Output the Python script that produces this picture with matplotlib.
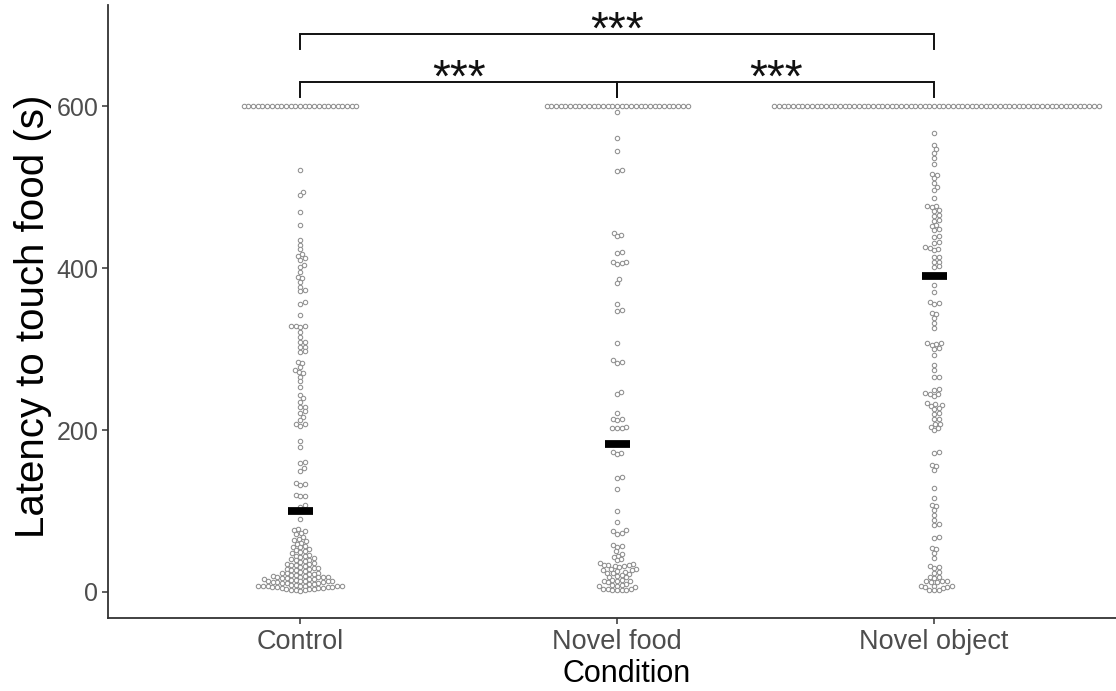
"""
Latency to touch food by condition: beeswarm with median bars and
significance brackets.  Writes out.png.
"""
import numpy as np
import matplotlib
matplotlib.use("Agg")
import matplotlib.pyplot as plt

plt.rcParams["font.family"] = ["Liberation Sans", "DejaVu Sans"]

INK = "#111111"
AXIS = "#333333"
TICK_TXT = "#4d4d4d"
DOT_EDGE = "#8f8f8f"

conditions = ["Control", "Novel food", "Novel object"]

# trials that hit the 600 s ceiling
n_ceiling = [25, 31, 70]

control = [
    521, 494, 490, 469, 453, 435, 429, 423, 417, 415, 412, 410, 404, 401,
    395, 389, 388, 383, 377, 373, 371, 358, 356, 342, 329, 329, 328, 327,
    321, 315, 309, 309, 303, 302, 297, 296, 284, 283, 278, 274, 272, 270,
    266, 260, 253, 243, 239, 235, 229, 228, 223, 221, 216, 212, 208, 207,
    205, 186, 179, 161, 159, 153, 150, 134, 133, 132, 120, 119, 118, 107,
    105, 90,
    78, 76, 75, 73, 71, 68, 66, 64, 63, 61, 59, 57, 56, 55, 53, 52, 51,
    49, 48, 46, 45, 44, 43, 42, 41, 40, 39, 38, 37, 36, 35,
    34, 33, 33, 32, 31, 30, 30, 29, 28, 27, 27, 26, 25, 24, 24, 23, 22, 22,
    21, 21, 20, 20,
    19, 19, 18, 18, 18, 17, 17, 16, 16, 16, 15, 15, 14, 14, 14, 13, 13, 12,
    12, 12, 11, 11, 11, 10, 10,
    9, 9, 8, 8, 8, 7, 7, 7, 7, 6, 6, 6, 6, 5, 5, 5, 4, 4, 4, 3, 3, 2, 1,
]

novel_food = [
    593, 561, 544, 521, 520, 443, 441, 439, 420, 419, 408, 407, 406, 405,
    387, 382, 356, 348, 347, 308, 286, 284, 283, 247, 245, 221, 214, 213,
    212, 204, 203, 203, 202, 173, 172, 170, 142, 141, 127, 100, 86, 76, 75,
    73, 72, 58, 57, 56, 50, 47, 45, 43, 41, 39, 36, 34, 33, 33, 33, 32, 32,
    31, 28, 28, 27, 27, 26, 25, 24, 23, 22, 21, 20, 19, 18, 15, 15, 14, 14,
    13, 12, 10, 9, 9, 8, 7, 6, 4, 4, 4, 3, 3, 3, 2,
]

novel_object = [
    567, 552, 547, 542, 536, 529, 516, 515, 511, 505, 500, 496, 486, 477,
    476, 475, 471, 470, 465, 464, 459, 458, 453, 452, 448, 447, 439, 438,
    432, 431, 426, 425, 424, 422, 414, 413, 408, 407, 402, 401, 379, 370,
    358, 357, 356, 344, 343, 338, 332, 326, 308, 307, 306, 305, 301, 300,
    293, 280, 274, 266, 265, 251, 250, 246, 245, 244, 242, 233, 232, 231,
    230, 227, 226, 221, 220, 214, 213, 208, 207, 204, 203, 200, 173, 172,
    157, 156, 151, 128, 116, 107, 106, 101, 95, 89, 84, 83, 68, 67, 54, 53,
    48, 42, 32, 31, 30, 25, 24, 19, 18, 17, 14, 13, 13, 12, 12, 8, 7, 7, 6,
    6, 5, 3, 2, 2,
]

medians = [100, 183, 390]

# pairwise comparisons: (group a, group b, label)
comparisons = [(0, 1, "***"), (1, 2, "***"), (0, 2, "***")]
bracket_tops = [630, 630, 689]


def swarm_offsets(ax, xc, vals, d):
    """Pixel-space swarm: each point goes as close to the centre line as it
    can without overlapping points already placed (lowest values first)."""
    pts = ax.transData.transform(np.column_stack([np.full(len(vals), xc), vals]))
    ys = pts[:, 1]
    order = np.argsort(ys, kind="stable")
    px, py = [], []
    offs = np.zeros(len(vals))
    for i in order:
        y = ys[i]
        near = [(a, b) for a, b in zip(px, py) if abs(b - y) < d]
        cands = [0.0]
        for a, b in near:
            dx = np.sqrt(d * d - (b - y) ** 2)
            cands += [a + dx, a - dx]
        cands.sort(key=lambda c: (round(abs(c), 6), -c))
        for c in cands:
            if all((a - c) ** 2 + (b - y) ** 2 >= d * d - 1e-6 for a, b in near):
                break
        offs[i] = c
        px.append(c)
        py.append(y)
    return offs


fig = plt.figure(figsize=(11.16, 6.91), dpi=100)
ax = fig.add_axes([108 / 1116, 73 / 691, 1008 / 1116, 613 / 691])
ax.set_xlim(0.394, 3.574)
ax.set_ylim(-32.1, 724.7)

for s in ("top", "right"):
    ax.spines[s].set_visible(False)
for s in ("left", "bottom"):
    ax.spines[s].set_color(AXIS)
    ax.spines[s].set_linewidth(1.3)

ax.set_yticks([0, 200, 400, 600])
ax.set_xticks([1, 2, 3])
ax.set_xticklabels(conditions)
ax.tick_params(axis="both", colors=AXIS, length=4, width=1.1)
ax.tick_params(axis="y", labelsize=18, labelcolor=TICK_TXT, pad=3)
ax.tick_params(axis="x", labelsize=19.5, labelcolor=TICK_TXT, pad=4)

groups = [control, novel_food, novel_object]
d_px = 4.7
x_per_px = (3.574 - 0.394) / 1008
for k, vals in enumerate(groups):
    xc = k + 1
    allv = np.array(vals + [600] * n_ceiling[k], dtype=float)
    offs = swarm_offsets(ax, xc, allv, d_px)
    ax.plot(xc + offs * x_per_px, allv, ls="none", marker="o", ms=3.2,
            mew=0.75, mfc="white", mec=DOT_EDGE, zorder=2)
    hw = 12.5 * x_per_px
    ax.plot([xc - hw, xc + hw], [medians[k]] * 2, color="black", lw=5.6,
            solid_capstyle="butt", zorder=3)

tip = 19
for (a, b, lab), top in zip(comparisons, bracket_tops):
    ax.plot([a + 1, a + 1, b + 1, b + 1], [top - tip, top, top, top - tip],
            color=INK, lw=1.4, solid_joinstyle="miter", clip_on=False, zorder=4)
    ax.text((a + b) / 2 + 1, top - 12, lab, ha="center", va="baseline",
            fontsize=33, color=INK, clip_on=False)

fig.text(33 / 1116, 1 - 316 / 691, "Latency to touch food (s)", rotation=90,
         ha="center", va="center", fontsize=29, color="black")
fig.text(627 / 1116, 1 - 674 / 691, "Condition", ha="center", va="center",
         fontsize=22, color="black")

fig.savefig("out.png", dpi=100)
